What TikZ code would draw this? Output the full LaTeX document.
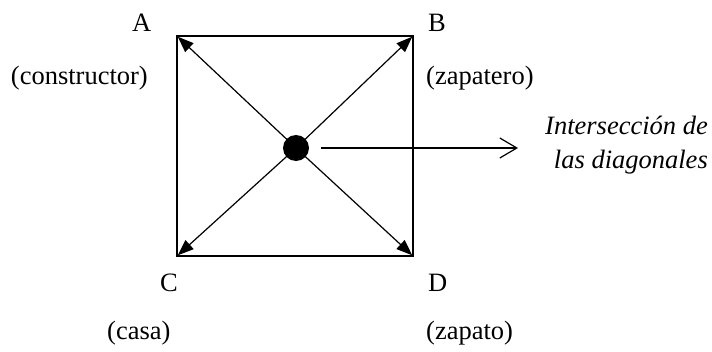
\documentclass[tikz,border=0pt]{standalone}
\usepackage{fontspec}
\setmainfont{Liberation Serif}
\usetikzlibrary{arrows.meta}
\begin{document}
\begin{tikzpicture}[x=1pt,y=-1pt,
  lbl/.style={inner sep=0pt,font=\fontsize{26.5}{32}\selectfont},
  side/.style={line width=2.8pt,line join=miter},
  diag/.style={line width=1.2pt,-{Triangle[length=16pt,width=12pt]},shorten >=1pt},
  pointer/.style={line width=1.2pt,-{Straight Barb[length=17pt,width=20pt,line width=1.2pt]}}]
\useasboundingbox (0,0) rectangle (712,351);
\coordinate (A) at (177,36);
\coordinate (B) at (413,36);
\coordinate (C) at (177,256);
\coordinate (D) at (413,256);
\draw[side] (A) -- (B) -- (D) -- (C) -- cycle;
\node[circle,fill=black,minimum size=26pt,inner sep=0pt] (dot) at (296,148) {};
\draw[diag] (dot.center) -- (A);
\draw[diag] (dot.center) -- (B);
\draw[diag] (dot.center) -- (C);
\draw[diag] (dot.center) -- (D);
\coordinate (ptrstart) at (321,148);
\coordinate (ptrend) at (518,148);
\draw[pointer] (ptrstart) -- (ptrend);
\node[lbl,anchor=base west] (la) at (132,31) {A};
\node[lbl,anchor=base west] (lb) at (428,31) {B};
\node[lbl,anchor=base west] (lc) at (160,291) {C};
\node[lbl,anchor=base west] (ld) at (428,291) {D};
\node[lbl,anchor=base east] (ta) at (148,84) {(constructor)};
\node[lbl,anchor=base west] (tb) at (426,84) {(zapatero)};
\node[lbl,anchor=base west] (tc) at (107,339) {(casa)};
\node[lbl,anchor=base west] (td) at (426,339) {(zapato)};
\node[lbl,anchor=base east,font=\fontsize{26.5}{32}\selectfont\itshape] (i1) at (708,134) {Intersección de};
\node[lbl,anchor=base east,font=\fontsize{26.5}{32}\selectfont\itshape] (i2) at (708,168) {las diagonales};
\end{tikzpicture}
\end{document}
